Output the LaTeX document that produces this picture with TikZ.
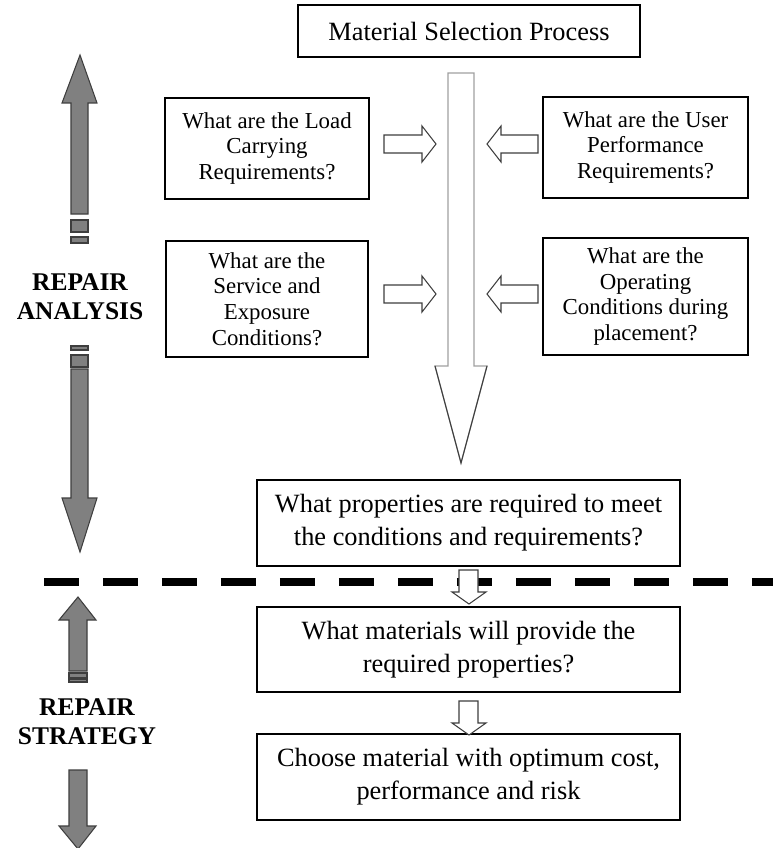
\documentclass[tikz,border=0pt]{standalone}
\usepackage{fontspec}
\setmainfont{Liberation Serif}
\usetikzlibrary{positioning,calc}
\definecolor{arrgray}{RGB}{128,128,128}
\definecolor{arredge}{RGB}{62,62,62}
\definecolor{flowedge}{RGB}{160,160,160}
\tikzset{
  qbox/.style={draw, line width=0.85pt, align=center, inner sep=0pt,
               font=\fontsize{13}{14.7}\selectfont},
  wbox/.style={draw, line width=0.85pt, align=center, inner sep=0pt,
               minimum width=8.46cm, minimum height=1.72cm,
               font=\fontsize{15}{18.7}\selectfont},
  sidelab/.style={align=center, font=\fontsize{14.5}{16.6}\selectfont\bfseries},
  garr/.style={fill=arrgray, draw=arredge, line width=0.6pt},
  harr/.style={fill=white, draw=arredge, line width=0.6pt},
  flowarr/.style={fill=white, draw=flowedge, line width=0.7pt},
  divider/.style={line width=5.1pt, dash pattern=on 0.7cm off 0.48cm},
}

\begin{document}
\begin{tikzpicture}[x=0.02cm, y=-0.02cm]
  \useasboundingbox (0,0) rectangle (773,848);

  % boxes
  \node[qbox, minimum width=6.84cm, minimum height=1.04cm,
        font=\fontsize{15}{17}\selectfont] (title) at (469,31) {Material Selection Process};
  \node[qbox, minimum width=4.08cm, minimum height=2.02cm] (loadreq) at (267,148.5)
    {What are the Load\\Carrying\\Requirements?};
  \node[qbox, minimum width=4.10cm, minimum height=2.02cm] (userreq) at (645.5,147.5)
    {What are the User\\Performance\\Requirements?};
  \node[qbox, minimum width=4.04cm, minimum height=2.32cm] (servcond) at (267,299)
    {What are the\\Service and\\Exposure\\Conditions?};
  \node[qbox, minimum width=4.10cm, minimum height=2.34cm] (opcond) at (645.5,296.5)
    {What are the\\Operating\\Conditions during\\placement?};
  \node[wbox] (propreq) at (468.5,523)
    {What properties are required to meet\\the conditions and requirements?};
  \node[wbox, minimum height=1.70cm] (matprov) at (468.5,649.5)
    {What materials will provide the\\required properties?};
  \node[wbox] (choosemat) at (468.5,777)
    {Choose material with optimum cost,\\performance and risk};

  % main flow arrow
  \draw[flowarr] (448,73) -- (474,73) -- (474,366) -- (487,366) -- (461,463)
    -- (435,366) -- (448,366) -- cycle;
  \draw[arredge, line width=0.6pt] (487,366) -- (461,463) -- (435,366);

  % side inputs
  \foreach \c in {144,294}{
    \draw[harr] (384,\c-9) -- (422,\c-9) -- (422,\c-18) -- (436,\c)
      -- (422,\c+18) -- (422,\c+9) -- (384,\c+9) -- cycle;
    \draw[harr] (538,\c-9) -- (501,\c-9) -- (501,\c-18) -- (487,\c)
      -- (501,\c+18) -- (501,\c+9) -- (538,\c+9) -- cycle;
  }

  % analysis / strategy divider
  \draw[divider] (44,582) -- (773,582);

  % small down arrows
  \foreach \t in {570,701}{
    \draw[harr] (459,\t) -- (478,\t) -- (478,\t+22) -- (486,\t+22) -- (469,\t+34)
      -- (452,\t+22) -- (459,\t+22) -- cycle;
  }

  % repair analysis
  \node[sidelab] (analysis) at (80,297) {REPAIR\\ANALYSIS};
  \draw[garr] (80,55) -- (97,103) -- (88,103) -- (88,214) -- (71,214) -- (71,103)
    -- (62,103) -- cycle;
  \draw[garr] (71,220) rectangle (88,232);
  \draw[garr] (71,237) rectangle (88,243);
  \draw[garr] (71,346) rectangle (88,350);
  \draw[garr] (71,355) rectangle (88,367);
  \draw[garr] (71,369) -- (88,369) -- (88,498) -- (97,498) -- (80,552) -- (62,498)
    -- (71,498) -- cycle;

  % repair strategy
  \node[sidelab] (strategy) at (87,722) {REPAIR\\STRATEGY};
  \draw[garr] (78,597) -- (96,620) -- (87,620) -- (87,671) -- (69,671) -- (69,620)
    -- (59,620) -- cycle;
  \draw[garr] (69,673) rectangle (87,678);
  \draw[garr] (69,679) rectangle (87,682);
  \draw[garr] (69,770) -- (87,770) -- (87,826) -- (96,826) -- (78,849) -- (59,826)
    -- (69,826) -- cycle;
\end{tikzpicture}
\end{document}
